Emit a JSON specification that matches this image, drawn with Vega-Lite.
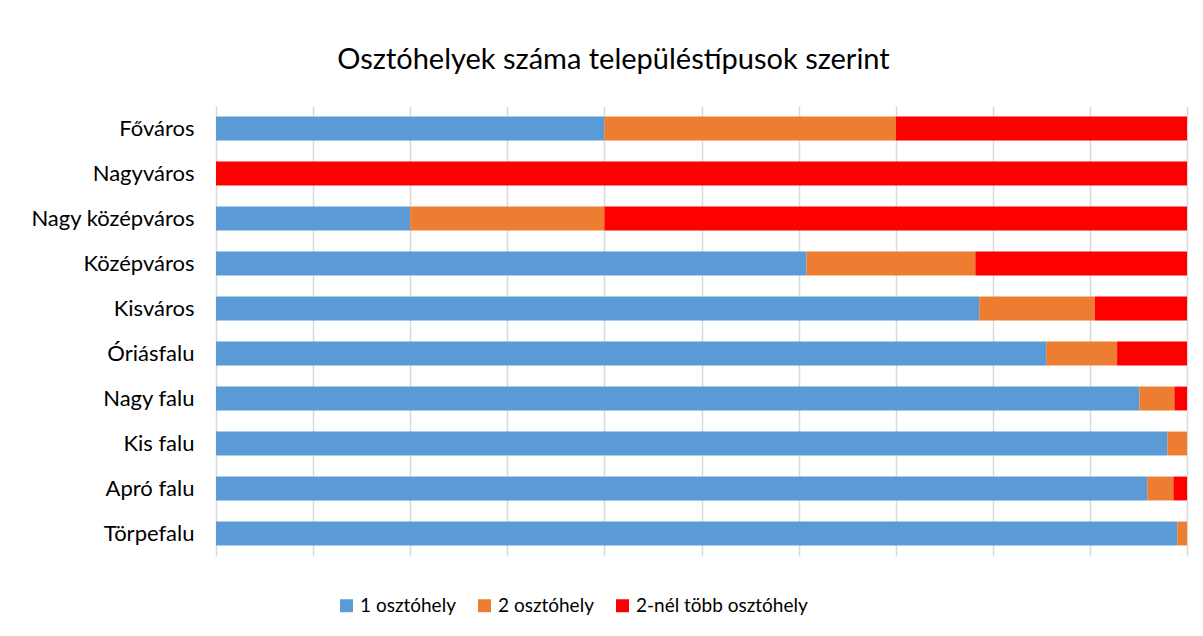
{
  "$schema": "https://vega.github.io/schema/vega-lite/v6.json",
  "autosize": {"type": "none"},
  "padding": {"left": 216, "top": 106, "right": 16, "bottom": 80},
  "width": 971,
  "height": 450,
  "background": "white",
  "title": {
    "text": "Osztóhelyek száma településtípusok szerint",
    "font": "Lato",
    "fontSize": 29,
    "fontWeight": "normal",
    "color": "#000000",
    "anchor": "middle",
    "dx": -88,
    "offset": 31
  },
  "data": {
    "values": [
      {"telepules": "Főváros", "tipus": "1 osztóhely", "arany": 40.0},
      {"telepules": "Főváros", "tipus": "2 osztóhely", "arany": 30.0},
      {"telepules": "Főváros", "tipus": "2-nél több osztóhely", "arany": 30.0},
      {"telepules": "Nagyváros", "tipus": "1 osztóhely", "arany": 0},
      {"telepules": "Nagyváros", "tipus": "2 osztóhely", "arany": 0},
      {"telepules": "Nagyváros", "tipus": "2-nél több osztóhely", "arany": 100.0},
      {"telepules": "Nagy középváros", "tipus": "1 osztóhely", "arany": 20.0},
      {"telepules": "Nagy középváros", "tipus": "2 osztóhely", "arany": 20.0},
      {"telepules": "Nagy középváros", "tipus": "2-nél több osztóhely", "arany": 60.0},
      {"telepules": "Középváros", "tipus": "1 osztóhely", "arany": 60.8},
      {"telepules": "Középváros", "tipus": "2 osztóhely", "arany": 17.4},
      {"telepules": "Középváros", "tipus": "2-nél több osztóhely", "arany": 21.8},
      {"telepules": "Kisváros", "tipus": "1 osztóhely", "arany": 78.6},
      {"telepules": "Kisváros", "tipus": "2 osztóhely", "arany": 11.9},
      {"telepules": "Kisváros", "tipus": "2-nél több osztóhely", "arany": 9.5},
      {"telepules": "Óriásfalu", "tipus": "1 osztóhely", "arany": 85.5},
      {"telepules": "Óriásfalu", "tipus": "2 osztóhely", "arany": 7.3},
      {"telepules": "Óriásfalu", "tipus": "2-nél több osztóhely", "arany": 7.2},
      {"telepules": "Nagy falu", "tipus": "1 osztóhely", "arany": 95.1},
      {"telepules": "Nagy falu", "tipus": "2 osztóhely", "arany": 3.6},
      {"telepules": "Nagy falu", "tipus": "2-nél több osztóhely", "arany": 1.3},
      {"telepules": "Kis falu", "tipus": "1 osztóhely", "arany": 98.0},
      {"telepules": "Kis falu", "tipus": "2 osztóhely", "arany": 2.0},
      {"telepules": "Kis falu", "tipus": "2-nél több osztóhely", "arany": 0},
      {"telepules": "Apró falu", "tipus": "1 osztóhely", "arany": 95.9},
      {"telepules": "Apró falu", "tipus": "2 osztóhely", "arany": 2.7},
      {"telepules": "Apró falu", "tipus": "2-nél több osztóhely", "arany": 1.4},
      {"telepules": "Törpefalu", "tipus": "1 osztóhely", "arany": 99.0},
      {"telepules": "Törpefalu", "tipus": "2 osztóhely", "arany": 1.0},
      {"telepules": "Törpefalu", "tipus": "2-nél több osztóhely", "arany": 0}
    ]
  },
  "mark": {"type": "bar"},
  "encoding": {
    "y": {
      "field": "telepules",
      "type": "nominal",
      "sort": null,
      "title": null,
      "scale": {"paddingInner": 0.47, "paddingOuter": 0.235},
      "axis": {
        "domain": false,
        "ticks": false,
        "labelFont": "Lato",
        "labelFontSize": 22,
        "labelColor": "#000000",
        "labelPadding": 22,
        "labelLimit": 300
      }
    },
    "x": {
      "field": "arany",
      "type": "quantitative",
      "stack": "normalize",
      "title": null,
      "scale": {"domain": [0, 1], "nice": false},
      "axis": {
        "values": [0, 0.1, 0.2, 0.3, 0.4, 0.5, 0.6, 0.7, 0.8, 0.9, 1],
        "labels": false,
        "ticks": false,
        "domain": false,
        "grid": true,
        "gridColor": "#d9d9d9",
        "gridWidth": 1.5
      }
    },
    "color": {
      "field": "tipus",
      "type": "nominal",
      "title": null,
      "scale": {
        "domain": ["1 osztóhely", "2 osztóhely", "2-nél több osztóhely"],
        "range": ["#5B9BD5", "#ED7D31", "#FF0000"]
      },
      "legend": {
        "orient": "none",
        "direction": "horizontal",
        "legendX": 121,
        "legendY": 490,
        "symbolType": "square",
        "symbolSize": 169,
        "symbolStrokeWidth": 0,
        "labelFont": "Lato",
        "labelFontSize": 19,
        "labelColor": "#000000",
        "labelLimit": 400,
        "columnPadding": 19,
        "labelOffset": 4
      }
    },
    "order": {"field": "tipus", "sort": "ascending"}
  },
  "config": {
    "view": {"stroke": null}
  }
}
